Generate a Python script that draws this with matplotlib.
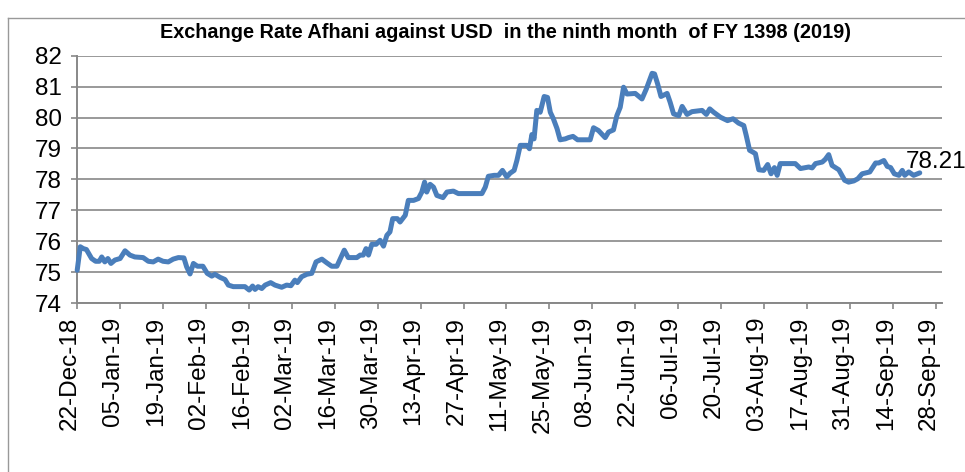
"""
Exchange rate Afghani vs USD, Dec 2018 - Sep 2019.
"""

import matplotlib
matplotlib.use("Agg")
import matplotlib.pyplot as plt
import matplotlib.dates as mdates
from matplotlib.lines import Line2D
from matplotlib.transforms import ScaledTranslation
import pandas as pd

plt.rcParams["font.family"] = ["Liberation Sans", "DejaVu Sans"]

START = "2018-12-22"
TITLE = "Exchange Rate Afhani against USD  in the ninth month  of FY 1398 (2019)"

# days since 22-Dec-18
days = [0, 1, 2, 3, 4.7, 6, 7.2, 8, 9, 10, 11, 12.3, 14, 15.6, 17.2, 18.8, 21.5,
        23.2, 24.8, 26.4, 28, 29.7, 31.3, 33, 34.8, 35.7, 36.8, 37.9, 39.2, 41,
        42.4, 43.9, 44.9, 46.6, 48.2, 49.3, 50.9, 54.7, 56.1, 57.2, 58, 59, 60.2,
        61.3, 63.1, 64.5, 66.7, 68.3, 69.7, 71, 71.8, 73.2, 74.9, 76.5, 77.9,
        79.8, 81.4, 83, 84.7, 87.1, 88.4, 91.2, 92.3, 93.3, 94.2, 95, 96.1, 97.5,
        98.8, 99.9, 101, 102, 102.9, 104.4, 105.3, 107, 108, 109.7, 111.3, 112.4,
        113.3, 114, 115.1, 116.2, 117.3, 119.3, 120.6, 122.7, 124.3, 132, 133.1,
        134.1, 136, 137.4, 138.7, 140.1, 141.2, 142.5, 143.4, 144.5, 146.7,
        147.5, 148.3, 149, 149.9, 151, 152.3, 153.4, 154.3, 155.3, 156.5, 157.5,
        159.2, 160.2, 161.7, 163.2, 167.3, 168.4, 170, 172.2, 173.3, 174.9, 176,
        177.1, 178.2, 179.3, 182, 184.2, 185.6, 187.5, 188.3, 189.3, 190.4,
        192.4, 193.4, 194.5, 196.2, 197.3, 198.9, 200.5, 203.8, 205.2, 206.3,
        207.6, 209.8, 212.1, 213.9, 215.7, 217.4, 218.2, 219.3, 220.4, 221.2,
        222.3, 223.9, 225.2, 226.3, 227.4, 228.3, 229.3, 234.2, 235.9, 238.6,
        239.7, 240.8, 243, 244, 245.1, 246.2, 248.4, 250.3, 251.6, 253.3, 254.6,
        256, 258.5, 260.4, 261.4, 263.1, 264.2, 265.3, 266.5, 268, 269.1, 269.9,
        271.2, 272.8, 274.8]

# Afghani per USD
rates = [75.06, 75.82, 75.76, 75.73, 75.44, 75.35, 75.35, 75.49, 75.33, 75.44,
         75.28, 75.39, 75.44, 75.69, 75.55, 75.49, 75.47, 75.35, 75.33, 75.42,
         75.35, 75.33, 75.42, 75.47, 75.46, 75.17, 74.94, 75.28, 75.19, 75.19,
         74.96, 74.87, 74.93, 74.83, 74.76, 74.58, 74.53, 74.53, 74.42, 74.55,
         74.44, 74.53, 74.47, 74.58, 74.66, 74.58, 74.51, 74.58, 74.56, 74.74,
         74.66, 74.85, 74.93, 74.96, 75.33, 75.42, 75.30, 75.19, 75.19, 75.71,
         75.47, 75.47, 75.55, 75.55, 75.76, 75.55, 75.90, 75.90, 76.03, 75.84,
         76.19, 76.30, 76.73, 76.73, 76.62, 76.84, 77.32, 77.32, 77.38, 77.59,
         77.91, 77.59, 77.84, 77.75, 77.48, 77.41, 77.59, 77.62, 77.54, 77.54,
         77.75, 78.10, 78.13, 78.13, 78.29, 78.08, 78.20, 78.29, 78.61, 79.10,
         79.10, 78.99, 79.45, 79.31, 80.23, 80.17, 80.68, 80.65, 80.17, 79.96,
         79.64, 79.28, 79.31, 79.35, 79.39, 79.28, 79.28, 79.67, 79.58, 79.35,
         79.53, 79.60, 80.06, 80.33, 80.98, 80.76, 80.78, 80.60, 80.92, 81.43,
         81.41, 81.09, 80.68, 80.78, 80.49, 80.12, 80.06, 80.36, 80.10, 80.19,
         80.23, 80.10, 80.28, 80.17, 80.01, 79.90, 79.96, 79.82, 79.74, 79.42,
         78.94, 78.88, 78.83, 78.31, 78.29, 78.48, 78.18, 78.38, 78.13, 78.51,
         78.51, 78.35, 78.40, 78.37, 78.51, 78.56, 78.65, 78.80, 78.45, 78.31,
         77.97, 77.91, 77.95, 78.02, 78.18, 78.24, 78.53, 78.53, 78.61, 78.42,
         78.38, 78.18, 78.13, 78.29, 78.13, 78.24, 78.13, 78.21]

y_ticks = [74, 75, 76, 77, 78, 79, 80, 81, 82]
last_label = "78.21"

dates = pd.Timestamp(START) + pd.to_timedelta(days, unit="D")
x_ticks = pd.date_range(START, "2019-09-28", freq="14D")

fig = plt.figure(figsize=(9.65, 4.72), dpi=100)
ax = fig.add_axes([0.080, 0.358, 0.896, 0.524])

ax.plot(dates, rates, color="#4A7EBB", lw=3.6, solid_joinstyle="round",
        solid_capstyle="round", clip_on=False, zorder=3)

ax.set_xlim(pd.Timestamp(START), pd.Timestamp(START) + pd.Timedelta(days=282))
ax.set_ylim(74, 82)
ax.set_yticks(y_ticks)
ax.set_xticks(x_ticks)
ax.xaxis.set_major_formatter(mdates.DateFormatter("%d-%b-%y"))

ax.grid(axis="y", color="#999999", lw=1.4)
ax.set_axisbelow(True)
for s in ("top", "right"):
    ax.spines[s].set_visible(False)
for s in ("left", "bottom"):
    ax.spines[s].set_color("#888888")
    ax.spines[s].set_linewidth(1.4)

ax.tick_params(axis="both", colors="#888888", width=1.2, length=4,
               labelcolor="black", labelsize=17.5)
ax.tick_params(axis="y", pad=7)
ax.tick_params(axis="x", pad=6)
shift = ScaledTranslation(-0.07, 0, fig.dpi_scale_trans)
for lab in ax.get_xticklabels():
    lab.set_rotation(90)
    lab.set_transform(lab.get_transform() + shift)

ax.annotate(last_label, xy=(dates[-1], rates[-1]), xytext=(-14, 11),
            textcoords="offset pixels", ha="left", va="center", fontsize=17.5,
            annotation_clip=False)

fig.text(505 / 965, 1 - 33 / 472, TITLE, ha="center", va="center",
         fontsize=14.3, fontweight="bold",
         family=["Liberation Sans Narrow", "Liberation Sans", "DejaVu Sans"])

# chart border
fig.add_artist(Line2D([8 / 965, 8 / 965], [0, 1 - 18 / 472],
                      color="#999999", lw=1, transform=fig.transFigure))
fig.add_artist(Line2D([8 / 965, 1], [1 - 18 / 472, 1 - 18 / 472],
                      color="#999999", lw=1, transform=fig.transFigure))

plt.savefig("out.png", dpi=100)
plt.close()
